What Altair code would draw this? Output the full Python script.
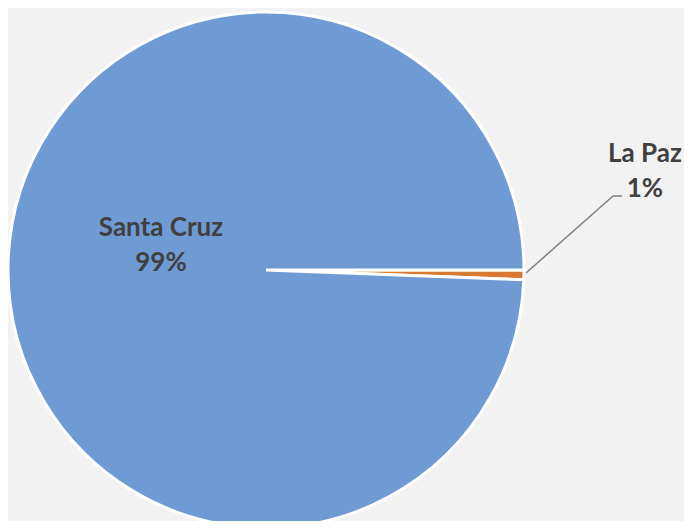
import math
import altair as alt
import pandas as pd

regions = ["La Paz", "Santa Cruz"]
shares = [0.6, 99.4]
pct_labels = ["1%", "99%"]
order = [0, 1]
colors = ["#d97a33", "#6f9bd4"]

df = pd.DataFrame({
    "region": regions,
    "share": shares,
    "pct": pct_labels,
    "ord": order,
})
df["label"] = df["region"] + "\n" + df["pct"]

CX, CY, R = 258, 262, 258

theta_enc = alt.Theta("share:Q", stack=True,
                      scale=alt.Scale(range=[math.pi / 2, math.pi / 2 + 2 * math.pi]))

base = alt.Chart(df).encode(
    theta=theta_enc,
    order=alt.Order("ord:Q"),
    x=alt.value(CX),
    y=alt.value(CY),
)

pie = base.mark_arc(radius=R, stroke="white", strokeWidth=3).encode(
    color=alt.Color("region:N", scale=alt.Scale(domain=regions, range=colors), legend=None)
)

txt_props = dict(font="Lato", fontWeight="bold", fontSize=26, color="#404040",
                 lineBreak="\n", lineHeight=35, align="center", baseline="alphabetic")

lbl_sc = base.mark_text(radius=105, dy=-36, **txt_props).encode(
    text="label:N"
).transform_filter(alt.datum.region == "Santa Cruz")

lbl_lp = base.mark_text(radius=386, dx=-7, dy=-115, **txt_props).encode(
    text="label:N"
).transform_filter(alt.datum.region == "La Paz")

# leader line for La Paz
lead = pd.DataFrame({"k": [0]})
rule1 = alt.Chart(lead).mark_rule(color="#7f7f7f", strokeWidth=1.5).encode(
    x=alt.value(518), y=alt.value(265), x2=alt.value(605), y2=alt.value(188)
)
rule2 = alt.Chart(lead).mark_rule(color="#7f7f7f", strokeWidth=1.5).encode(
    x=alt.value(605), y=alt.value(188), x2=alt.value(614), y2=alt.value(188)
)

chart = alt.layer(pie, rule1, rule2, lbl_sc, lbl_lp).properties(
    width=676, height=513, autosize=alt.AutoSizeParams(type="none"), padding=0,
    background="#f2f2f2",
).configure_view(stroke=None)

chart.save("out.html", embed_options={"renderer": "svg", "actions": False})
